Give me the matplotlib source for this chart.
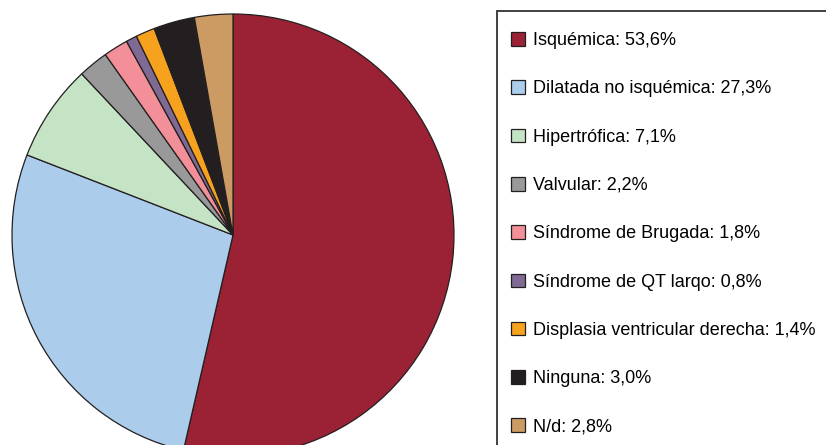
import matplotlib as mpl
import matplotlib.pyplot as plt
from matplotlib.patches import Rectangle

mpl.rcParams["font.family"] = ["Liberation Sans", "DejaVu Sans"]

labels = ["Isquémica", "Dilatada no isquémica", "Hipertrófica", "Valvular",
          "Síndrome de Brugada", "Síndrome de QT larqo",
          "Displasia ventricular derecha", "Ninguna", "N/d"]
values = [53.6, 27.3, 7.1, 2.2, 1.8, 0.8, 1.4, 3.0, 2.8]
colors = ["#9B2235", "#ABCDEB", "#C5E3C5", "#999999", "#F28F98",
          "#7F6A93", "#F7A21F", "#231F20", "#CC9B63"]

fig = plt.figure(figsize=(8.26, 4.45), dpi=100)
ax = fig.add_axes([0, 0, 1, 1])

wedges, _ = ax.pie(values, colors=colors, startangle=90, counterclock=False,
                   center=(233, 210), radius=221,
                   wedgeprops=dict(edgecolor="#231F20", linewidth=0.9))
ax.set_xlim(0, 826)
ax.set_ylim(0, 445)
ax.set_aspect("auto")
ax.axis("off")

# legend frame runs past the right and bottom edges
ax.add_patch(Rectangle((497, -20), 360, 445 - 11 + 20, fill=False,
                       edgecolor="#333333", linewidth=1.3, clip_on=False))

legend_labels = ["%s: %s%%" % (l, ("%.1f" % v).replace(".", ",")) for l, v in zip(labels, values)]
leg = ax.legend(wedges, legend_labels, loc="upper left",
                bbox_to_anchor=(511 / 826, 1 - 32 / 445),
                bbox_transform=fig.transFigure,
                fontsize=13, frameon=False,
                borderpad=0, labelspacing=1.73,
                handlelength=0.78, handleheight=0.78, handletextpad=0.45,
                borderaxespad=0)

fig.savefig("out.png", dpi=100)
